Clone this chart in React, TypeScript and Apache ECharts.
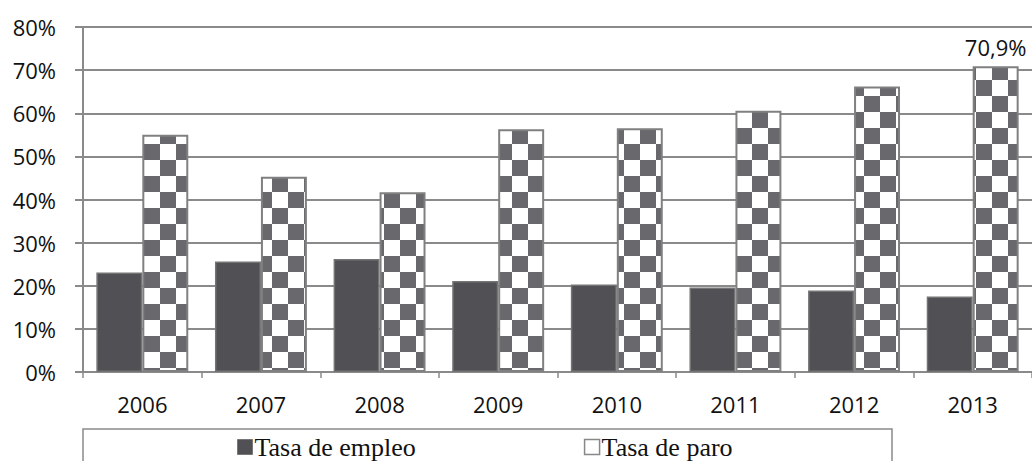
import React, { useEffect, useRef } from "react";
import * as echarts from "echarts";

const categories = ["2006", "2007", "2008", "2009", "2010", "2011", "2012", "2013"];
const tasaEmpleo = [23.1, 25.6, 26.2, 21.1, 20.3, 19.6, 18.9, 17.5];
const tasaParo = [55.0, 45.3, 41.7, 56.3, 56.5, 60.6, 66.2, 70.9];
const labelledIndex = 7;
const labelText = "70,9%";

const TILE = 32;

function makePattern(): HTMLCanvasElement {
  const c = document.createElement("canvas");
  c.width = TILE;
  c.height = TILE;
  const ctx = c.getContext("2d")!;
  const h = TILE / 2;
  ctx.fillStyle = "#ffffff";
  ctx.fillRect(0, 0, TILE, TILE);
  ctx.fillStyle = "#68686d";
  ctx.fillRect(0, 0, h, h);
  ctx.fillRect(h, h, h, h);
  return c;
}

export default function App() {
  const ref = useRef<HTMLDivElement>(null);
  useEffect(() => {
    if (!ref.current) return;
    const chart = echarts.init(ref.current, undefined, { renderer: "svg" });
    const pattern = makePattern();
    const font = "'Open Sans', sans-serif";
    chart.setOption({
      animation: false,
      backgroundColor: "#ffffff",
      grid: { left: 83, right: 0, top: 27, bottom: 89, containLabel: false },
      legend: {
        left: 237,
        top: 434,
        padding: 0,
        itemWidth: 15,
        itemHeight: 15,
        itemGap: 168,
        icon: "rect",
        textStyle: { fontFamily: "'Liberation Serif', serif", fontSize: 26, color: "#111", padding: [0, 0, 0, -3] },
        data: [
          { name: "Tasa de empleo", itemStyle: { color: "#505055", borderColor: "#777", borderWidth: 1 } },
          { name: "Tasa de paro", itemStyle: { color: "#ffffff", borderColor: "#888", borderWidth: 1.5 } },
        ],
      },
      graphic: [
        {
          type: "rect",
          shape: { x: 83, y: 429, width: 809, height: 50 },
          style: { fill: "none", stroke: "#8a8a8a", lineWidth: 1.5 },
          silent: true,
        },
      ],
      xAxis: {
        type: "category",
        data: categories,
        boundaryGap: true,
        axisLine: { lineStyle: { color: "#8a8a8a", width: 2 } },
        axisTick: { show: true, length: 6, lineStyle: { color: "#8a8a8a", width: 1.5 } },
        axisLabel: { fontFamily: font, fontSize: 22, color: "#111", margin: 21 },
      },
      yAxis: {
        type: "value",
        min: 0,
        max: 80,
        interval: 10,
        axisLine: { show: true, lineStyle: { color: "#8a8a8a", width: 2 } },
        axisTick: { show: true, length: 8, lineStyle: { color: "#8a8a8a", width: 2 } },
        splitLine: { show: true, lineStyle: { color: "#8a8a8a", width: 2 } },
        axisLabel: { fontFamily: font, fontSize: 22, color: "#111", margin: 27, formatter: "{value}%" },
      },
      series: [
        {
          name: "Tasa de empleo",
          type: "bar",
          barGap: "0%",
          barCategoryGap: "22.5%",
          data: tasaEmpleo,
          itemStyle: { color: "#505055", borderColor: "#747474", borderWidth: 1.5 },
        },
        {
          name: "Tasa de paro",
          type: "bar",
          barGap: "0%",
          barCategoryGap: "22.5%",
          data: tasaParo.map((v, i) =>
            i === labelledIndex
              ? {
                  value: v,
                  label: {
                    show: true,
                    position: "top",
                    distance: 8,
                    formatter: labelText,
                    fontFamily: font,
                    fontSize: 22,
                    color: "#111",
                  },
                }
              : v
          ),
          itemStyle: {
            color: { image: pattern, repeat: "repeat", imageWidth: TILE, imageHeight: TILE },
            borderColor: "#808080",
            borderWidth: 2,
          },
        },
      ],
    });
    return () => chart.dispose();
  }, []);
  return (
    <div
      ref={ref}
      style={{ position: "fixed", left: 0, top: 0, width: 1032, height: 461 }}
    />
  );
}
